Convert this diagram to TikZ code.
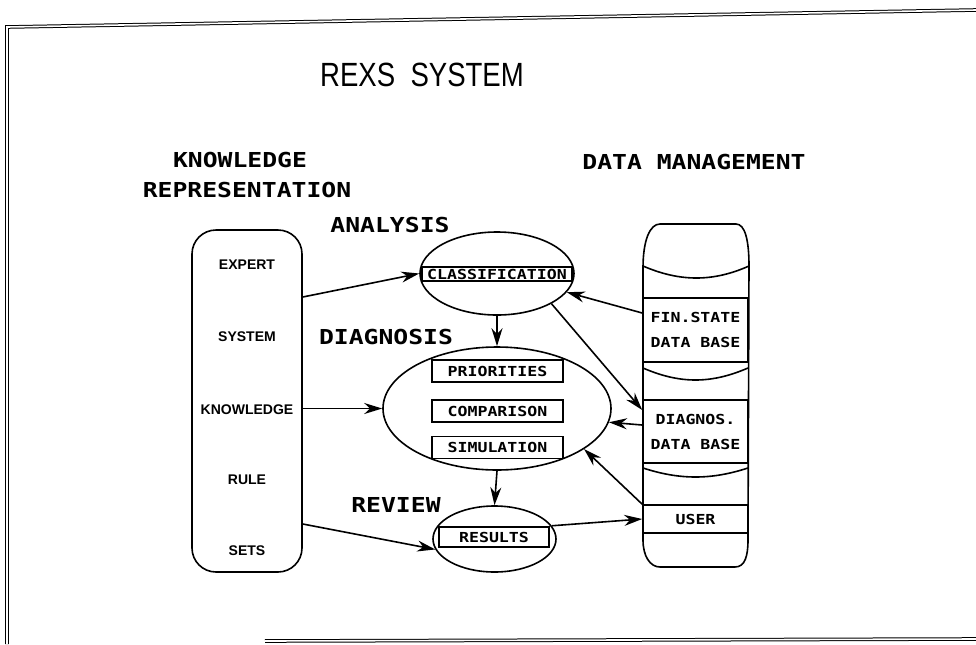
\documentclass[tikz,border=0pt]{standalone}
\usepackage{fontspec}
\setmainfont{Liberation Sans}
\newfontfamily\monofont[FakeStretch=1.2]{DejaVu Sans Mono}
\newfontfamily\titlefont[FakeStretch=0.82]{Liberation Sans}
\usetikzlibrary{shapes.geometric,arrows.meta}

\begin{document}
\begin{tikzpicture}[x=0.5pt,y=-0.5pt,line width=0.8pt,
  hdr/.style={font=\monofont\bfseries\fontsize{10.3}{12}\selectfont,inner sep=0pt},
  tag/.style={font=\monofont\bfseries\fontsize{6.9}{12.5}\selectfont,inner sep=0pt},
  ktext/.style={font=\bfseries\fontsize{7}{8}\selectfont,inner sep=0pt},
  proc/.style={draw,ellipse,inner sep=0pt},
  field/.style={draw,rectangle,tag},
  arr/.style={-{Stealth[length=9pt,width=5.5pt]}}]
\useasboundingbox (0,0) rectangle (976,644);

  % frame of the sheet
  \draw[double,double distance=0.8pt,line width=0.5pt] (976,10) -- (7,27) -- (7,644);
  \draw[double,double distance=0.8pt,line width=0.5pt] (265,641) -- (976,639);

  % headings
  \node[font=\titlefont\fontsize{16.8}{20}\selectfont,inner sep=0pt] (title) at (422,75) {REXS\ \ SYSTEM};
  \node[hdr] (kr1) at (240,160) {KNOWLEDGE};
  \node[hdr] (kr2) at (247,190) {REPRESENTATION};
  \node[hdr] (dm) at (694,162) {DATA MANAGEMENT};
  \node[hdr] (analysis) at (390,225) {ANALYSIS};
  \node[hdr] (diagnosis) at (386,337) {DIAGNOSIS};
  \node[hdr] (review) at (396,505) {REVIEW};

  % rule sets
  \node[draw,rectangle,rounded corners=12pt,minimum width=55pt,minimum height=171pt] (krep) at (247,401) {};
  \foreach \y/\t in {265/EXPERT,337/SYSTEM,410/KNOWLEDGE,480/RULE,551/SETS}
    \node[ktext] (k\y) at (247,\y) {\t};

  % processes
  \node[proc,minimum width=77pt,minimum height=41.5pt] (classif) at (497,273.5) {};
  \node[field,minimum width=75pt,minimum height=7pt] (cls) at (497,274) {CLASSIFICATION};
  \node[proc,minimum width=114pt,minimum height=61.5pt] (diag) at (497,408.5) {};
  \node[field,minimum width=65.5pt,minimum height=11pt] (prio) at (497.5,371) {PRIORITIES};
  \node[field,minimum width=65.5pt,minimum height=11pt] (comp) at (497.5,411) {COMPARISON};
  \node[field,minimum width=65.5pt,minimum height=11pt] (simu) at (497.5,447.5) {SIMULATION};
  \node[proc,minimum width=61.5pt,minimum height=33pt] (results) at (494.5,539) {};
  \node[field,minimum width=55pt,minimum height=10pt] (res) at (494,537) {RESULTS};

  % data base drum
  \draw (643,540) -- (643,268) .. controls (643,240) and (650,224) .. (660,224) -- (736,224)
    .. controls (745,224) and (749,240) .. (749,266) -- (748,540)
    .. controls (748,556) and (745,567) .. (735,567) -- (660,567)
    .. controls (650,567) and (643,556) .. (643,540);
  \draw (643,266) .. controls (680,282) and (713,282) .. (749,266);
  \draw (643,368) .. controls (680,384) and (711,384) .. (748,368);
  \draw (643,468) .. controls (680,480) and (711,480) .. (748,468);
  \node[field,minimum width=52.5pt,minimum height=32pt,align=center] (fin) at (695.5,330) {FIN.STATE\\DATA BASE};
  \node[field,minimum width=52.5pt,minimum height=31.5pt,align=center] (diagdb) at (695.5,431.5) {DIAGNOS.\\DATA BASE};
  \node[field,minimum width=52.5pt,minimum height=14pt] (user) at (695.5,519) {USER};

  \draw[arr] (krep.east |- 0,297) -- (classif.west);
  \draw[arr] (classif.south) -- (diag.north);
  \draw[arr] (krep.east |- diag.west) -- (diag.west);
  \draw[arr] (diag.south) -- (results.north);
  \draw[arr] (krep.east |- 0,524) -- (results.190);
  \draw[arr] (results.13) -- (user.west);
  \draw[arr] (fin.west |- 0,313) -- (classif.-15);
  \draw[arr] (classif.-29) -- (diagdb.west |- 0,410);
  \draw[arr] (diagdb.west |- 0,425) -- (diag.-7);
  \draw[arr] (user.north west) -- (diag.-25);

\end{tikzpicture}
\end{document}
